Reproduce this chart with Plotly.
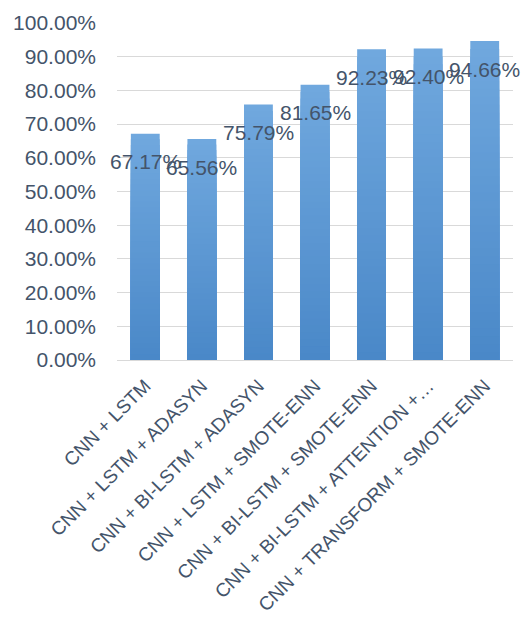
import plotly.graph_objects as go

# Model configurations and their accuracy (%)
models = [
    "CNN + LSTM",
    "CNN + LSTM + ADASYN",
    "CNN + BI-LSTM + ADASYN",
    "CNN + LSTM + SMOTE-ENN",
    "CNN + BI-LSTM + SMOTE-ENN",
    "CNN + BI-LSTM + ATTENTION +…",
    "CNN + TRANSFORM + SMOTE-ENN",
]
accuracy = [67.17, 65.56, 75.79, 81.65, 92.23, 92.40, 94.66]

y_ticks = [0, 10, 20, 30, 40, 50, 60, 70, 80, 90, 100]
y_tick_labels = [f"{v:.2f}%" for v in y_ticks]

TEXT = "#44546A"
FONT = "Liberation Sans, Arial, sans-serif"

# Vertical gradient on every bar: overlaid bars, tallest/lightest first,
# each shorter one darker and drawn on top, so the bottom ends up darkest
N_SLICES = 40
dark = (74, 136, 200)
light = (112, 168, 222)

fig = go.Figure()
for k in range(N_SLICES - 1, -1, -1):
    t = (k + 0.5) / N_SLICES
    col = tuple(round(d + (l - d) * t) for d, l in zip(dark, light))
    fig.add_trace(go.Bar(
        x=models,
        y=[v * (k + 1) / N_SLICES for v in accuracy],
        marker=dict(color=f"rgb{col}", line=dict(width=0)),
        hoverinfo="skip",
        showlegend=False,
    ))

# Value labels, placed just below each bar top
for m, v in zip(models, accuracy):
    fig.add_annotation(
        x=m, y=v, text=f"{v:.2f}%", showarrow=False,
        yshift=-28, font=dict(family=FONT, size=21, color=TEXT),
    )

fig.update_layout(
    width=522, height=626, autosize=False,
    margin=dict(l=117, r=9, t=23, b=266),
    paper_bgcolor="white", plot_bgcolor="white",
    barmode="overlay", bargap=0.49,
    font=dict(family=FONT, color=TEXT),
)
fig.update_xaxes(
    automargin=False, range=[-0.5, len(models) - 0.5],
    tickangle=-45, tickfont=dict(family=FONT, size=19, color=TEXT),
    showgrid=False, showline=False, ticks="", ticklabelstandoff=10,
)
fig.update_yaxes(
    automargin=False,
    range=[0, 100], tickvals=y_ticks, ticktext=y_tick_labels,
    tickfont=dict(family=FONT, size=21, color=TEXT),
    showgrid=True, gridcolor="#D9D9D9", gridwidth=1.3,
    zeroline=True, zerolinecolor="#D9D9D9", zerolinewidth=1.3,
    showline=False, ticks="", ticklabelstandoff=20,
)

fig.write_html("out.html")
